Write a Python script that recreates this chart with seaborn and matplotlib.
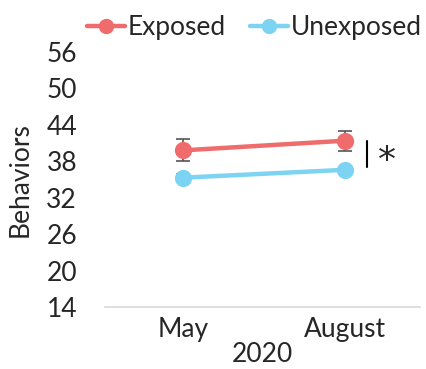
import matplotlib
matplotlib.use("Agg")
import matplotlib.pyplot as plt
import seaborn as sns
import pandas as pd

months = ["May", "August"]
groups = ["Exposed", "Unexposed"]
exposed_mean = [39.8, 41.4]
exposed_err = [1.8, 1.65]
unexposed_mean = [35.3, 36.6]
unexposed_err = [0.6, 0.5]
y_ticks = [14, 20, 26, 32, 38, 44, 50, 56]

colors = {"Exposed": "#F06B6B", "Unexposed": "#7DD4F2"}

df = pd.DataFrame({
    "month": months * 2,
    "group": ["Exposed"] * 2 + ["Unexposed"] * 2,
    "value": exposed_mean + unexposed_mean,
    "err": exposed_err + unexposed_err,
})

sns.set_theme(style="white")
plt.rcParams["font.family"] = ["Lato", "DejaVu Sans"]

fig = plt.figure(figsize=(4.26, 3.69), dpi=100)
ax = fig.add_axes([0.246, 0.168, 0.74, 0.691])

sns.pointplot(data=df, x="month", y="value", hue="group", order=months,
              hue_order=groups, palette=colors, errorbar=None,
              markers="o", markersize=10, linewidth=3.2, ax=ax, legend=False)

for g in groups:
    sub = df[df["group"] == g]
    ax.errorbar(range(len(months)), sub["value"], yerr=sub["err"], fmt="none",
                ecolor="#555555", elinewidth=1.2, capsize=5, capthick=1.2, zorder=1)

ax.set_ylim(14, 56)
ax.set_xlim(-0.48, 1.46)
ax.set_yticks(y_ticks)
ax.tick_params(axis="y", labelsize=19, length=0, pad=20)
ax.tick_params(axis="x", labelsize=19, length=0, pad=7)
ax.set_xlabel("2020", fontsize=19, labelpad=0)
ax.set_ylabel("Behaviors", fontsize=19, labelpad=10)
for side in ["top", "right", "left"]:
    ax.spines[side].set_visible(False)
ax.spines["bottom"].set_color("#D9D9D9")
ax.spines["bottom"].set_linewidth(1.2)

# significance marker between the groups in August
ax.plot([1.135, 1.135], [37.1, 41.3], color="black", lw=1.5, clip_on=False)
ax.text(1.2, 38.0, "*", fontsize=26, ha="left", va="center",
        family=["DejaVu Sans"])

handles = [plt.Line2D([], [], color=colors[g], marker="o", markersize=10, lw=3.2)
           for g in groups]
fig.legend(handles, groups, loc="upper right", bbox_to_anchor=(1.033, 1.01), ncol=2,
           frameon=False, fontsize=19, handlelength=1.45, handletextpad=0.1,
           columnspacing=0.9, borderpad=0.2)

fig.savefig("out.png", dpi=100)
